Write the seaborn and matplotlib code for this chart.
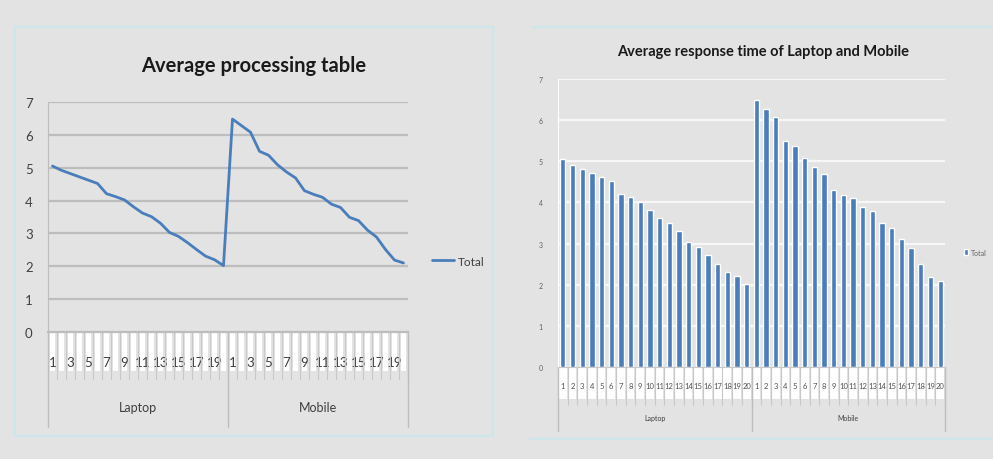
import numpy as np
import pandas as pd
import seaborn as sns
import matplotlib.pyplot as plt
from matplotlib.patches import Rectangle
from matplotlib.lines import Line2D
import matplotlib.transforms as mtrans

# data
groups = ["Laptop", "Mobile"]
items = list(range(1, 21))
laptop = [5.05, 4.92, 4.82, 4.72, 4.62, 4.52, 4.21, 4.12, 4.02, 3.81,
          3.62, 3.51, 3.31, 3.03, 2.91, 2.72, 2.51, 2.31, 2.20, 2.02]
mobile = [6.48, 6.28, 6.08, 5.50, 5.38, 5.09, 4.87, 4.69, 4.30, 4.19,
          4.10, 3.89, 3.79, 3.49, 3.39, 3.10, 2.89, 2.51, 2.19, 2.10]

df = pd.DataFrame({
    "group": np.repeat(groups, len(items)),
    "item": items * len(groups),
    "value": laptop + mobile,
})
df["pos"] = np.arange(len(df))

BG = "#e3e3e3"
BLUE = "#4a7ebb"
sns.set_style("white")
plt.rcParams["font.family"] = ["Lato", "DejaVu Sans"]

fig = plt.figure(figsize=(9.93, 4.6), dpi=100)
fig.patch.set_facecolor(BG)
W, H = 993.0, 460.0

def fx(px):
    return px / W

def fy(py):
    return 1 - py / H

# chart frames
fig.patches.append(Rectangle((fx(15), fy(437)), fx(493) - fx(15), fy(28) - fy(437),
                             transform=fig.transFigure, fill=False,
                             edgecolor="#cde6ec", lw=1.6))
fig.lines.append(Line2D([fx(533), 1], [fy(28), fy(28)], transform=fig.transFigure,
                        color="#cde6ec", lw=1.6))
fig.lines.append(Line2D([fx(530), 1], [fy(440), fy(440)], transform=fig.transFigure,
                        color="#cde6ec", lw=1.6))

n = len(df)


def category_axis(ax, strip, strip_w, sep_bottom, grp_y, grp_size, lbl_every):
    tr = mtrans.blended_transform_factory(ax.transData, ax.transAxes)
    for i in range(n):
        ax.add_patch(Rectangle((i - strip_w / 2, strip), strip_w, -strip,
                               transform=tr, facecolor="white", edgecolor="none",
                               clip_on=False, zorder=0))
        ax.plot([i + 0.5, i + 0.5], [0, strip * 1.2], transform=tr, color="#c8c8c8",
                lw=0.8, clip_on=False)
    for b in [-0.5, len(items) - 0.5, n - 0.5]:
        ax.plot([b, b], [0, sep_bottom], transform=tr, color="#bdbdbd", lw=1,
                clip_on=False)
    for k, g in enumerate(groups):
        mid = k * len(items) + (len(items) - 1) / 2
        ax.text(mid, grp_y, g, transform=tr, ha="center", va="center",
                fontsize=grp_size, color="#404040")
    ticks = df["pos"][::lbl_every]
    ax.set_xticks(ticks)
    ax.set_xticklabels(df["item"][::lbl_every])
    ax.set_xlim(-0.5, n - 0.5)


# ---- left: line chart
ax1 = fig.add_axes([fx(48), fy(333), fx(408) - fx(48), fy(103) - fy(333)])
ax1.set_facecolor(BG)
sns.lineplot(data=df, x="pos", y="value", ax=ax1, color=BLUE, lw=2.0, label="Total")
ax1.set_ylim(0, 7)
ax1.set_yticks(range(0, 8))
for v in range(1, 8):
    ax1.axhline(v, color="#bdbdbd", lw=1.6, zorder=0)
for s in ["top", "right"]:
    ax1.spines[s].set_visible(False)
ax1.spines["left"].set_color("#bdbdbd")
ax1.spines["bottom"].set_color("#bdbdbd")
ax1.spines["bottom"].set_linewidth(1.6)
category_axis(ax1, -0.17, 0.55, -0.413, -0.326, 9, 2)
ax1.tick_params(axis="x", length=0, pad=17, labelsize=9.5, labelcolor="#404040")
ax1.tick_params(axis="y", length=0, pad=11, labelsize=9.5, labelcolor="#404040")
ax1.set_xlabel("")
ax1.set_ylabel("")
h1, l1 = ax1.get_legend_handles_labels()
ax1.get_legend().remove()
fig.legend(h1, l1, loc="center left", bbox_to_anchor=(fx(421), fy(262)),
           frameon=False, fontsize=8.5, handlelength=1.9, handletextpad=0.3,
           labelcolor="#404040")
fig.text(fx(254), fy(66), "Average processing table", ha="center", va="center",
         fontsize=14.5, fontweight="bold", color="#1a1a1a")

# ---- right: bar chart
ax2 = fig.add_axes([fx(558), fy(368), fx(945) - fx(558), fy(80) - fy(368)])
ax2.set_facecolor(BG)
sns.barplot(data=df, x="pos", y="value", ax=ax2, color=BLUE, width=0.55,
            saturation=1, label="Total", zorder=3)
ax2.set_ylim(0, 7)
ax2.set_yticks(range(0, 8))
for v in range(1, 8):
    ax2.axhline(v, color="#f7f7f7", lw=1.6, zorder=1)
for s in ["top", "right"]:
    ax2.spines[s].set_visible(False)
ax2.spines["left"].set_color("#ffffff")
ax2.spines["bottom"].set_color("#c8c8c8")
category_axis(ax2, -0.11, 0.8, -0.222, -0.174, 5, 1)
ax2.tick_params(axis="x", length=0, pad=11, labelsize=5.5, labelcolor="#505050")
ax2.tick_params(axis="y", length=0, pad=11, labelsize=5, labelcolor="#606060")
ax2.set_xlabel("")
ax2.set_ylabel("")
h2, l2 = ax2.get_legend_handles_labels()
if ax2.get_legend() is not None:
    ax2.get_legend().remove()
fig.legend(h2, l2, loc="center left", bbox_to_anchor=(fx(958), fy(253)),
           frameon=False, fontsize=5, handlelength=0.6, handleheight=0.9,
           handletextpad=0.4, labelcolor="#606060")
fig.text(fx(763), fy(52), "Average response time of Laptop and Mobile", ha="center",
         va="center", fontsize=10.5, fontweight="bold", color="#1a1a1a")

fig.savefig("out.png", dpi=100, facecolor=BG)
